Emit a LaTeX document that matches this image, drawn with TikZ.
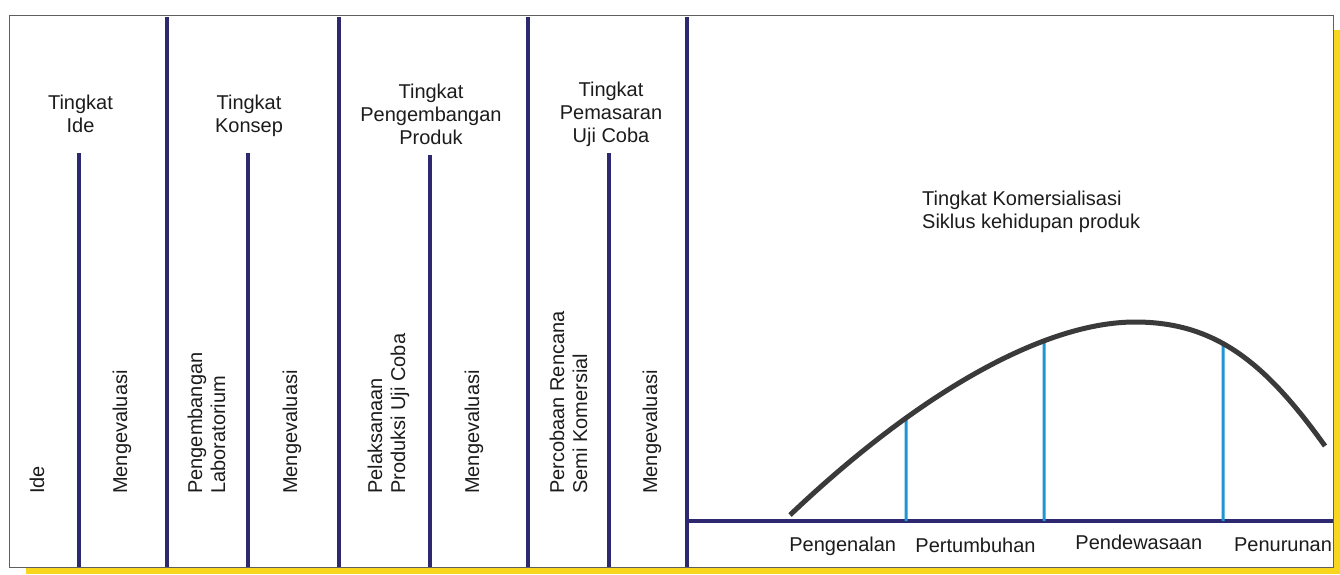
\documentclass[tikz,border=0pt]{standalone}
\usepackage{fontspec}
\setmainfont{Liberation Sans}
\usetikzlibrary{intersections}
\definecolor{navy}{RGB}{45,40,112}
\definecolor{lblue}{RGB}{30,150,210}
\definecolor{curvegray}{RGB}{58,58,58}
\definecolor{shadowyellow}{RGB}{248,214,30}
\definecolor{txt}{RGB}{28,28,28}
\definecolor{framegray}{RGB}{95,95,95}
\tikzset{
  lbl/.style={inner sep=0pt, text=txt, font=\fontsize{20}{23}\selectfont, align=center},
  vlbl/.style={inner sep=0pt, text=txt, font=\fontsize{20}{23}\selectfont, align=left, rotate=90, anchor=north west},
  divider/.style={draw=navy, line width=3.4pt},
  stage/.style={draw=lblue, line width=3pt},
  lifecurve/.style={draw=curvegray, line width=5pt},
}
\begin{document}
\begin{tikzpicture}[x=1pt,y=-1pt]
\useasboundingbox (0,0) rectangle (1340,574);
% shadow and frame
\fill[shadowyellow] (26,30) rectangle (1340,574);
\draw[framegray, fill=white, line width=1pt] (9,15) rectangle (1333,567);
% full dividers
\foreach \x in {167,339,528,687} \draw[divider] (\x,17) -- (\x,567);
% short dividers
\draw[divider] (79,153) -- (79,567);
\draw[divider] (248,153) -- (248,567);
\draw[divider] (430,155) -- (430,567);
\draw[divider] (609,153) -- (609,567);
% baseline of right panel
\coordinate (bl) at (687,521);
\coordinate (br) at (1333,521);
\draw[divider] (bl) -- (br);
% top labels
\node[lbl, anchor=north] (t1) at (80.5,95) {Tingkat\\Ide};
\node[lbl, anchor=north] (t2) at (249,95) {Tingkat\\Konsep};
\node[lbl, anchor=north] (t3) at (431,84) {Tingkat\\Pengembangan\\Produk};
\node[lbl, anchor=north] (t4) at (611,82) {Tingkat\\Pemasaran\\Uji Coba};
% rotated labels
\node[vlbl] (r1) at (29.5,494) {Ide};
\node[vlbl] (r2) at (112.5,494) {Mengevaluasi};
\node[vlbl] (r3) at (187.5,494) {Pengembangan\\Laboratorium};
\node[vlbl] (r4) at (282.5,494) {Mengevaluasi};
\node[vlbl] (r5) at (367.5,494) {Pelaksanaan\\Produksi Uji Coba};
\node[vlbl] (r6) at (464.5,494) {Mengevaluasi};
\node[vlbl] (r7) at (549.5,494) {Percobaan Rencana\\Semi Komersial};
\node[vlbl] (r8) at (642.5,494) {Mengevaluasi};
% right panel title
\node[lbl, align=left, anchor=north west] (kom) at (922,191) {Tingkat Komersialisasi\\Siklus kehidupan produk};
% life cycle curve
\path[name path=cycle] (790,515) .. controls (920,391.5) and (1045,322) .. (1135,322)
      .. controls (1215,322) and (1265,362) .. (1325,446);
\coordinate (b1) at (906,521);
\coordinate (b2) at (1044,521);
\coordinate (b3) at (1223,521);
\path[name path=v1] (906,200) -- (b1);
\path[name path=v2] (1044,200) -- (b2);
\path[name path=v3] (1223,200) -- (b3);
\path[name intersections={of=cycle and v1, by=c1}];
\path[name intersections={of=cycle and v2, by=c2}];
\path[name intersections={of=cycle and v3, by=c3}];
\draw[stage] (c1) -- (b1);
\draw[stage] (c2) -- (b2);
\draw[stage] (c3) -- (b3);
\draw[lifecurve] (790,515) .. controls (920,391.5) and (1045,322) .. (1135,322)
      .. controls (1215,322) and (1265,362) .. (1325,446);
% stage labels
\node[lbl, anchor=base] (s1) at (842.7,551) {Pengenalan};
\node[lbl, anchor=base] (s2) at (975.5,552.5) {Pertumbuhan};
\node[lbl, anchor=base] (s3) at (1138.8,549.5) {Pendewasaan};
\node[lbl, anchor=base] (s4) at (1283,551) {Penurunan};
\end{tikzpicture}
\end{document}
